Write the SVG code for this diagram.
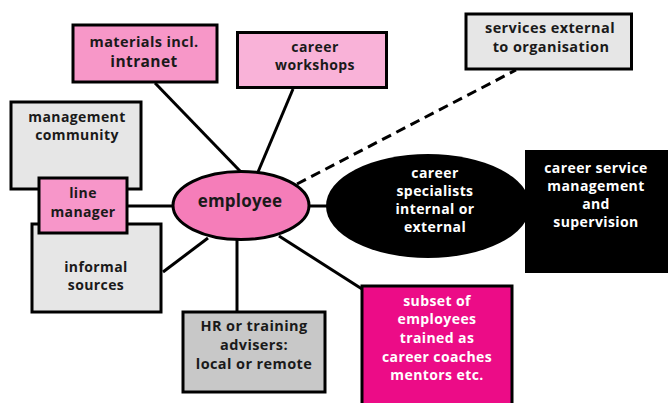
<svg xmlns="http://www.w3.org/2000/svg" width="668" height="403" viewBox="0 0 668 403">
<style>
text{font-family:"Open Sans","Noto Sans","DejaVu Sans",sans-serif;font-weight:bold;font-size:14px;letter-spacing:0.4px;text-anchor:middle;fill:#1a1a1a}
.b{stroke:#000;stroke-width:3}
.w{fill:#fff}
.c{stroke:#000;stroke-width:3;fill:none}
.d{stroke-dasharray:10,6}
</style>
<rect width="668" height="403" fill="#fff"/>
<g id="connectors">
<line class="c" x1="155" y1="83" x2="240" y2="171"/>
<line class="c" x1="293" y1="89" x2="258" y2="172"/>
<line class="c d" x1="297" y1="184" x2="516" y2="70"/>
<line class="c" x1="128" y1="206" x2="172" y2="206"/>
<line class="c" x1="163" y1="272" x2="208" y2="238"/>
<line class="c" x1="237" y1="240" x2="237" y2="311"/>
<line class="c" x1="279" y1="236" x2="362" y2="289"/>
<line class="c" x1="310" y1="206" x2="328" y2="206"/>
</g>
<g id="materials">
<rect class="b" x="73" y="25" width="144" height="57" fill="#F797C8"/>
<text x="144" y="47" style="font-size:14.5px">materials incl.</text>
<text x="144" y="67" style="font-size:15.5px">intranet</text>
</g>
<g id="workshops">
<rect class="b" x="237.5" y="32.5" width="149" height="55" fill="#F9B2D8"/>
<text x="315" y="52">career</text>
<text x="315" y="70">workshops</text>
</g>
<g id="services">
<rect class="b" x="466" y="14" width="165.5" height="55" fill="#E6E6E6"/>
<text x="550" y="33" style="font-size:14.5px">services external</text>
<text x="551" y="52" style="font-size:14.5px">to organisation</text>
</g>
<g id="management">
<rect class="b" x="11" y="102" width="130" height="87" fill="#E6E6E6"/>
<text x="77" y="122">management</text>
<text x="77" y="140">community</text>
</g>
<g id="informal">
<rect class="b" x="32" y="224" width="129" height="88" fill="#E6E6E6"/>
<text x="96" y="272">informal</text>
<text x="96" y="290">sources</text>
</g>
<g id="linemanager">
<rect class="b" x="39" y="178" width="88" height="55" fill="#F796C9"/>
<text x="83" y="198">line</text>
<text x="83" y="217">manager</text>
</g>
<g id="employee">
<ellipse class="b" cx="241" cy="205.5" rx="68" ry="34" fill="#F57DB9"/>
<text x="240" y="207" style="font-size:17px;letter-spacing:0.2px">employee</text>
</g>
<g id="hr">
<rect class="b" x="183" y="312" width="142" height="80" fill="#C8C8C8"/>
<text x="254" y="331" style="font-size:14.5px">HR or training</text>
<text x="254" y="350" style="font-size:14.5px">advisers:</text>
<text x="254" y="369" style="font-size:14.5px">local or remote</text>
</g>
<g id="specialists">
<ellipse cx="428" cy="206" rx="102" ry="52" fill="#000"/>
<text class="w" x="435" y="178">career</text>
<text class="w" x="435" y="196">specialists</text>
<text class="w" x="435" y="214">internal or</text>
<text class="w" x="435" y="232">external</text>
</g>
<g id="supervision">
<rect x="525" y="150" width="143" height="123" fill="#000"/>
<text class="w" x="596" y="173">career service</text>
<text class="w" x="596" y="191">management</text>
<text class="w" x="596" y="209">and</text>
<text class="w" x="596" y="227">supervision</text>
</g>
<g id="coaches">
<rect class="b" x="362" y="286" width="150" height="120" fill="#EC0C87"/>
<text class="w" x="437" y="306">subset of</text>
<text class="w" x="437" y="324">employees</text>
<text class="w" x="437" y="343">trained as</text>
<text class="w" x="437" y="362">career coaches</text>
<text class="w" x="437" y="380">mentors etc.</text>
</g>
</svg>
